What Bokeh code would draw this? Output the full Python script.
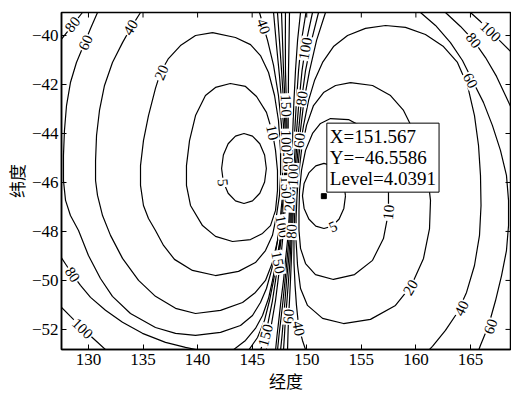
from bokeh.plotting import figure
from bokeh.models import Range1d, FixedTicker, Label, ColumnDataSource
from bokeh.core.properties import value
from bokeh.embed import file_html
from bokeh.resources import INLINE

# ---------------- axes ----------------
x_lim = [127.53, 168.67]
y_lim = [-52.82, -39.06]
x_ticks = [130, 135, 140, 145, 150, 155, 160, 165]
y_ticks = [-52, -50, -48, -46, -44, -42, -40]
x_label = "经度"
y_label = "纬度"

# ---------------- contour lines (lon, lat) ----------------
# left lobe
L5_lon = [146.3, 146.14, 145.7, 145.03, 144.25, 143.47, 142.8, 142.36, 142.2, 142.36, 142.8, 143.47, 144.25, 145.03, 145.7, 146.14, 146.3]
L5_lat = [-45.43, -44.88, -44.42, -44.11, -44.0, -44.11, -44.42, -44.88, -45.43, -45.98, -46.44, -46.75, -46.86, -46.75, -46.44, -45.98, -45.43]

L10_lon = [143.0, 141.64, 140.72, 139.81, 139.26, 138.98, 138.98, 139.35, 140.45, 141.64, 143.2, 144.85, 145.95, 146.68, 147.14, 147.32, 147.32, 147.14, 146.86, 146.31, 145.4, 144.39, 143.0]
L10_lat = [-41.96, -42.12, -42.45, -43.27, -44.29, -45.31, -46.12, -46.94, -47.76, -48.2, -48.41, -48.33, -48.08, -47.76, -47.14, -46.33, -45.51, -44.69, -43.96, -43.14, -42.49, -42.08, -41.96]

L20_lon = [141.37, 139.81, 138.43, 137.33, 136.6, 136.14, 135.5, 135.04, 134.77, 134.77, 135.04, 135.5, 136.14, 136.88, 137.88, 139.53, 141.64, 143.75, 145.3, 146.22, 146.86, 147.23, 147.5, 147.6, 147.6, 147.41, 147.05, 146.5, 145.76, 144.85, 143.47, 141.37]
L20_lat = [-39.88, -40.0, -40.41, -40.94, -41.51, -42.16, -43.27, -44.29, -45.31, -46.12, -46.94, -47.47, -47.96, -48.57, -49.14, -49.59, -49.8, -49.63, -49.27, -48.78, -48.16, -47.35, -46.53, -45.71, -44.69, -43.47, -42.45, -41.51, -40.82, -40.37, -40.08, -39.88]

L40_lon = [134.95, 134.77, 133.85, 133.12, 132.2, 131.47, 131.01, 130.74, 130.65, 130.65, 130.83, 131.29, 132.02, 133.12, 134.59, 136.14, 137.98, 139.81, 142.1, 144.12, 145.3, 146.22, 146.86, 147.32, 147.6, 147.78, 147.78, 147.78, 147.69, 147.41, 146.96, 146.41, 146.04, 145.67, 145.58]
L40_lat = [-38.9, -39.06, -39.71, -40.29, -41.1, -42.04, -43.06, -44.08, -45.1, -45.92, -46.53, -47.35, -48.16, -49.1, -50.0, -50.65, -51.14, -51.35, -51.22, -50.9, -50.49, -50.0, -49.27, -48.37, -47.35, -46.53, -45.71, -44.69, -43.67, -42.45, -41.22, -40.2, -39.63, -39.06, -38.9]

L60_lon = [130.83, 130.19, 129.55, 128.9, 128.35, 127.99, 127.8, 127.71, 127.71, 127.9, 128.35, 129.09, 130.0, 131.1, 132.2, 133.85, 136.14, 137.98, 139.81, 142.1, 143.93, 145.03, 145.76, 146.31, 146.77, 147.14, 147.41, 147.69, 147.87, 147.96, 147.96, 147.87, 147.69, 147.5, 147.23, 146.96]
L60_lat = [-39.06, -39.71, -40.41, -41.1, -41.92, -42.86, -43.88, -44.9, -45.92, -46.73, -47.35, -47.96, -48.98, -49.92, -50.65, -51.35, -51.92, -52.16, -52.24, -52.12, -51.84, -51.43, -50.9, -50.33, -49.59, -48.86, -48.16, -47.35, -46.53, -45.71, -44.69, -43.67, -42.65, -41.63, -40.41, -39.06]

L80a_lon = [129.64, 129.45, 128.72, 128.08, 127.44]
L80a_lat = [-38.9, -39.06, -39.47, -39.84, -40.2]
L80b_lon = [127.44, 127.99, 128.54, 129.27, 130.19, 131.56, 133.12, 134.95, 137.06, 138.89, 140.27]
L80b_lat = [-49.02, -49.39, -49.76, -50.2, -50.69, -51.22, -51.71, -52.16, -52.53, -52.73, -52.86]
L80c_lon = [143.2, 144.39, 145.3, 145.95, 146.5, 146.86, 147.23, 147.55, 147.78, 147.96, 148.05, 148.05, 148.0, 147.87, 147.69, 147.5, 147.32, 147.28]
L80c_lat = [-52.86, -52.45, -51.96, -51.43, -50.73, -50.0, -49.18, -48.37, -47.47, -46.53, -45.71, -44.69, -43.67, -42.65, -41.43, -40.2, -39.06, -38.9]

L100a_lon = [127.44, 128.35, 129.45, 130.65, 131.65]
L100a_lat = [-51.06, -51.47, -51.96, -52.45, -52.86]
L100c_lon = [144.66, 145.49, 146.13, 146.59, 146.96, 147.32, 147.6, 147.83, 148.01, 148.12, 148.13, 148.1, 148.01, 147.87, 147.78, 147.69, 147.69]
L100c_lat = [-52.86, -52.33, -51.63, -50.82, -50.0, -49.1, -48.29, -47.47, -46.53, -45.71, -44.69, -43.67, -42.65, -41.43, -40.2, -39.06, -38.9]

L150_lon = [145.76, 146.22, 146.5, 146.86, 147.14, 147.41, 147.64, 147.87, 148.05, 148.19, 148.21, 148.19, 148.13, 148.05, 148.04, 148.05, 148.05]
L150_lat = [-52.86, -52.24, -51.63, -50.82, -50.0, -49.18, -48.37, -47.47, -46.53, -45.71, -44.69, -43.67, -42.65, -41.43, -40.2, -39.06, -38.9]

L200_lon = [146.31, 146.59, 146.86, 147.14, 147.37, 147.6, 147.78, 147.96, 148.15, 148.27, 148.29, 148.3, 148.31, 148.33, 148.38, 148.42, 148.42]
L200_lat = [-52.86, -52.24, -51.55, -50.82, -50.0, -49.18, -48.37, -47.47, -46.53, -45.71, -44.69, -43.67, -42.65, -41.43, -40.2, -39.06, -38.9]

# right lobe
R5_lon = [153.55, 153.4, 152.97, 152.33, 151.58, 150.83, 150.19, 149.76, 149.61, 149.76, 150.19, 150.83, 151.58, 152.33, 152.97, 153.4, 153.55]
R5_lat = [-46.55, -46.04, -45.61, -45.32, -45.22, -45.32, -45.61, -46.04, -46.55, -47.06, -47.49, -47.78, -47.88, -47.78, -47.49, -47.06, -46.55]

R10_lon = [152.18, 153.83, 155.2, 156.39, 157.13, 157.49, 157.49, 157.03, 156.03, 154.38, 152.45, 150.8, 149.89, 149.43, 149.29, 149.29, 149.34, 149.52, 149.89, 150.53, 151.26, 152.18]
R10_lat = [-43.39, -43.43, -43.76, -44.37, -45.22, -46.24, -47.22, -48.29, -49.18, -49.76, -49.96, -49.76, -49.31, -48.69, -47.96, -47.14, -46.33, -45.51, -44.69, -44.0, -43.59, -43.39]

R20_lon = [154.01, 156.03, 157.68, 158.87, 159.78, 160.52, 161.07, 161.34, 161.25, 160.7, 159.6, 158.13, 155.84, 153.37, 151.45, 150.07, 149.43, 149.16, 149.02, 149.02, 149.11, 149.25, 149.52, 149.98, 150.62, 151.54, 152.64, 154.01]
R20_lat = [-41.92, -42.04, -42.45, -43.06, -43.88, -44.78, -45.71, -46.73, -47.88, -49.1, -50.2, -51.02, -51.59, -51.76, -51.55, -51.02, -50.33, -49.39, -48.37, -47.47, -46.53, -45.71, -44.69, -43.67, -42.86, -42.33, -42.04, -41.92]

R40_lon = [149.98, 149.61, 149.25, 149.06, 148.93, 148.83, 148.83, 148.88, 148.97, 149.11, 149.34, 149.71, 150.17, 150.71, 151.45, 152.45, 153.74, 155.38, 157.22, 159.05, 160.88, 162.53, 163.81, 164.73, 165.37, 165.74, 165.92, 165.97, 165.83, 165.37, 164.64, 163.81, 162.71, 161.52, 161.16]
R40_lat = [-52.94, -52.45, -51.84, -51.02, -50.2, -49.27, -48.37, -47.47, -46.53, -45.71, -44.69, -43.67, -42.65, -41.84, -41.1, -40.45, -40.0, -39.71, -39.59, -39.67, -39.96, -40.45, -41.1, -42.04, -43.27, -44.49, -45.71, -46.94, -48.16, -49.39, -50.49, -51.31, -52.04, -52.69, -52.86]

bundle_lat = [-38.9, -39.06, -40.2, -41.43, -42.65, -43.67, -44.69, -45.71, -46.53, -47.47, -48.37, -49.18, -50.0, -50.82, -51.55, -52.24, -52.86]
R60c_lon = [151.81, 151.72, 150.9, 150.26, 149.75, 149.48, 149.2, 148.99, 148.84, 148.74, 148.65, 148.59, 148.51, 148.42, 148.33, 148.28, 148.24]
R80c_lon = [151.17, 151.08, 150.44, 149.89, 149.52, 149.3, 149.06, 148.88, 148.75, 148.65, 148.56, 148.47, 148.33, 148.19, 148.05, 147.96, 147.87]
R100c_lon = [150.62, 150.53, 149.98, 149.57, 149.3, 149.11, 148.93, 148.76, 148.66, 148.56, 148.47, 148.33, 148.15, 148.01, 147.87, 147.74, 147.6]
R150_lon = [149.98, 149.93, 149.52, 149.25, 149.06, 148.93, 148.79, 148.65, 148.56, 148.47, 148.36, 148.19, 148.01, 147.83, 147.64, 147.46, 147.32]
R200_lon = [149.43, 149.43, 149.16, 148.97, 148.83, 148.74, 148.65, 148.54, 148.47, 148.38, 148.24, 148.05, 147.87, 147.64, 147.46, 147.28, 147.14]

R60r_lon = [160.24, 160.42, 161.8, 163.17, 164.27, 165.18, 166.19, 167.01, 167.75, 168.3, 168.49, 168.49, 168.3, 167.85, 167.3, 166.66, 165.92, 165.74]
R60r_lat = [-38.9, -39.06, -39.59, -40.29, -41.02, -41.84, -42.73, -43.67, -44.69, -45.71, -46.73, -47.76, -48.78, -49.8, -50.82, -51.84, -52.65, -52.86]
R80r_lon = [162.26, 162.71, 164.09, 165.28, 166.38, 167.39, 168.21, 168.85]
R80r_lat = [-38.9, -39.06, -39.63, -40.2, -40.9, -41.67, -42.45, -43.06]
R100r_lon = [164.55, 165.0, 165.92, 166.84, 167.75, 168.85]
R100r_lat = [-38.9, -39.06, -39.43, -39.84, -40.24, -40.73]

# ---------------- contour labels ----------------
lab_text = ["80", "60", "40", "20", "10", "5", "80", "100", "40", "100", "150", "150", "60", "40",
            "100", "80", "150", "60", "200", "200", "5", "10", "20", "40", "60", "60", "80", "100",
            "100", "150", "100", "80"]
lab_lon = [128.54, 129.73, 133.85, 136.69, 146.86, 142.3, 128.54, 129.45, 146.04, 147.75, 147.39, 146.22, 148.33, 149.25,
           149.87, 149.55, 148.11, 149.31, 148.29, 148.45, 152.4, 157.49, 159.51, 164.18, 166.84, 165.0, 165.28, 166.84,
           148.12, 148.12, 148.76, 148.6]
lab_lat = [-39.55, -40.29, -39.67, -41.51, -43.96, -46.0, -49.76, -51.96, -39.63, -47.8, -49.27, -52.24, -51.47, -51.96,
           -40.53, -42.57, -42.86, -44.29, -45.1, -46.73, -47.8, -47.22, -50.29, -51.14, -51.88, -41.84, -40.2, -39.84,
           -44.3, -46.2, -45.7, -48.0]
lab_angle = [52, 64, 59, 67, -77, -85, -56, -44, -70, -80, -80, 75, 86, -80,
             80, 82, -88, 84, -89, 87, 25, 84, 59, 64, 70, -63, -52, -44,
             -89, -88, 88, 88]

# ---------------- data tip ----------------
tip_x = [151.567]
tip_y = [-46.5586]
tip_level = [4.0391]

# ------------------------------------------------------------------
def minus(s):
    return s.replace("-", "\u2212")

lines = [
    (L5_lon, L5_lat), (L10_lon, L10_lat), (L20_lon, L20_lat), (L40_lon, L40_lat), (L60_lon, L60_lat),
    (L80a_lon, L80a_lat), (L80b_lon, L80b_lat), (L80c_lon, L80c_lat),
    (L100a_lon, L100a_lat), (L100c_lon, L100c_lat), (L150_lon, L150_lat), (L200_lon, L200_lat),
    (R5_lon, R5_lat), (R10_lon, R10_lat), (R20_lon, R20_lat), (R40_lon, R40_lat),
    (R60c_lon, bundle_lat), (R80c_lon, bundle_lat), (R100c_lon, bundle_lat), (R150_lon, bundle_lat), (R200_lon, bundle_lat),
    (R60r_lon, R60r_lat), (R80r_lon, R80r_lat), (R100r_lon, R100r_lat),
]

p = figure(width=511, height=397,
           x_range=Range1d(x_lim[0], x_lim[1]), y_range=Range1d(y_lim[0], y_lim[1]),
           output_backend="svg", toolbar_location=None,
           min_border_left=61, min_border_right=1, min_border_top=12, min_border_bottom=48,
           background_fill_color="white", border_fill_color="white")
p.grid.visible = False
p.outline_line_color = "black"
p.outline_line_width = 1.5

p.multi_line(xs=[l[0] for l in lines], ys=[l[1] for l in lines], line_color="black", line_width=1.2)

lab_src = ColumnDataSource(dict(x=lab_lon, y=lab_lat, text=lab_text, angle=lab_angle))
p.text(x="x", y="y", text="text", angle="angle", angle_units="deg", source=lab_src,
       text_font=value("Liberation Serif"), text_font_size=value("15px"), text_color="black",
       text_align="center", text_baseline="middle", background_fill_color="white", padding=1)

# inward tick marks mirrored on the top and right edges (half of each dash is clipped by the frame)
p.scatter(x=x_ticks, y=[y_lim[1]] * len(x_ticks), marker="dash", angle=90, angle_units="deg",
          size=10, line_color="black", line_width=1)
p.scatter(x=[x_lim[1]] * len(y_ticks), y=y_ticks, marker="dash", size=10, line_color="black", line_width=1)

p.scatter(x=tip_x, y=tip_y, marker="square", size=5, fill_color="black", line_color="black")

tip_text = "X=%s\nY=%s\nLevel=%s" % (tip_x[0], minus(str(tip_y[0])), tip_level[0])
p.add_layout(Label(x=tip_x[0], y=tip_y[0], x_offset=3, y_offset=4, text=tip_text,
                   anchor="bottom_left", padding=3, text_font="Liberation Serif", text_font_size="19px",
                   text_line_height=1.0, text_color="black",
                   background_fill_color="white", border_line_color="black", border_line_width=1))

# main axes
xa = p.xaxis[0]
ya = p.yaxis[0]
xa.ticker = FixedTicker(ticks=x_ticks)
ya.ticker = FixedTicker(ticks=y_ticks)
xa.major_label_overrides = {t: minus(str(t)) for t in x_ticks}
ya.major_label_overrides = {t: minus(str(t)) for t in y_ticks}
for ax, lab in ((xa, x_label), (ya, y_label)):
    ax.axis_label = lab
    ax.axis_label_text_font = "Noto Sans CJK SC"
    ax.axis_label_text_font_size = "17px"
    ax.axis_label_text_font_style = "normal"
    ax.axis_label_text_color = "black"
    ax.major_label_text_font = "Liberation Serif"
    ax.major_label_text_font_size = "17px"
    ax.major_label_text_color = "black"
    ax.major_tick_in = 5
    ax.major_tick_out = 0
    ax.minor_tick_line_color = None
    ax.axis_line_width = 1.5
    ax.axis_line_color = "black"
    ax.major_tick_line_color = "black"
xa.major_label_standoff = 4
ya.major_label_standoff = 3
xa.axis_label_standoff = 0
ya.axis_label_standoff = 0

open("out.html", "w").write(file_html(p, INLINE))
